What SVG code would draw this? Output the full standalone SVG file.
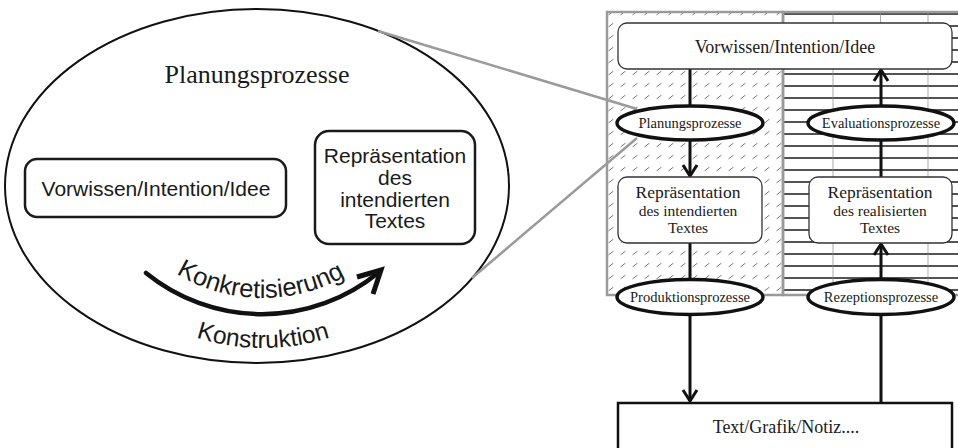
<svg xmlns="http://www.w3.org/2000/svg" width="958" height="448" viewBox="0 0 958 448">
<defs>
<style>
.serif{font-family:"Liberation Serif","Times New Roman",serif;fill:#1a1a1a;text-anchor:middle}
.sans{font-family:"Liberation Sans",Arial,sans-serif;fill:#1a1a1a;text-anchor:middle}
.lbox{fill:#fff;stroke:#1a1a1a;stroke-width:2.5}
.rbox{fill:#fff;stroke:#333;stroke-width:1.3}
.proc{fill:#fff;stroke:#111;stroke-width:3.5}
.conn{stroke:#111;stroke-width:3;fill:none}
.head{stroke:#111;stroke-width:3;fill:none;stroke-linejoin:miter}
.gray{stroke:#9a9a9a;stroke-width:2.5;fill:none}
</style>
<pattern id="hatch" patternUnits="userSpaceOnUse" x="737" y="67" width="12" height="12">
<line x1="3.6" y1="7.8" x2="8.4" y2="4.2" stroke="#555" stroke-width="0.8"/>
</pattern>
<pattern id="hlines" patternUnits="userSpaceOnUse" x="0" y="8" width="12" height="12">
<line x1="0" y1="6" x2="12" y2="6" stroke="#333" stroke-width="1.7"/>
</pattern>
<path id="arcTop" d="M 96,131 A 167 167 0 0 0 430,131"/>
<path id="arcBot" d="M 46,131 A 217 217 0 0 0 480,131"/>
</defs>
<rect width="958" height="448" fill="#fff"/>

<g id="zoom-ellipse">
<ellipse cx="257" cy="186" rx="252" ry="177" fill="#fff" stroke="#111" stroke-width="2"/>
<text class="serif" x="257" y="83" font-size="26">Planungsprozesse</text>
</g>
<g id="left-vorwissen">
<rect class="lbox" x="25" y="159" width="261" height="58" rx="12"/>
<text class="sans" x="156" y="196" font-size="21">Vorwissen/Intention/Idee</text>
</g>
<g id="left-repraesentation">
<rect class="lbox" x="315" y="131" width="160" height="113" rx="14"/>
<text class="sans" x="395" y="163" font-size="21">Repräsentation</text>
<text class="sans" x="395" y="185" font-size="21">des</text>
<text class="sans" x="395" y="207" font-size="21">intendierten</text>
<text class="sans" x="395" y="228" font-size="21">Textes</text>
</g>
<g id="konkretisierung">
<path d="M146,273 A184 184 0 0 0 378,273" fill="none" stroke="#111" stroke-width="4.5" stroke-linecap="round"/>
<polyline points="357,277 381,270 373,294" fill="none" stroke="#111" stroke-width="5" stroke-linejoin="miter"/>
<text class="sans" font-size="25.5"><textPath href="#arcTop" startOffset="49.5%">Konkretisierung</textPath></text>
<text class="sans" font-size="24.5"><textPath href="#arcBot" startOffset="50%">Konstruktion</textPath></text>
</g>

<g id="panel">
<rect x="607" y="12" width="176" height="283" fill="url(#hatch)"/>
<rect x="783" y="12" width="180" height="283" fill="url(#hlines)"/>
<g stroke="#888" stroke-width="0.7">
<line x1="833" y1="12" x2="833" y2="295"/>
<line x1="880.5" y1="12" x2="880.5" y2="295"/>
<line x1="928" y1="12" x2="928" y2="295"/>
</g>
<rect x="607" y="12" width="176" height="283" class="gray"/>
<rect x="783" y="12" width="180" height="283" class="gray"/>
</g>

<g id="zoom-lines">
<line class="gray" x1="378" y1="31" x2="637" y2="109"/>
<line class="gray" x1="472" y1="278" x2="637" y2="138"/>
</g>

<g id="connectors">
<line class="conn" x1="690" y1="69" x2="690" y2="106"/>
<line class="conn" x1="690" y1="140" x2="690" y2="176"/>
<polyline class="head" points="683,165 690,176 697,165"/>
<line class="conn" x1="690" y1="243" x2="690" y2="279"/>
<line class="conn" x1="690" y1="315" x2="690" y2="401"/>
<polyline class="head" points="683,390 690,401 697,390"/>
<line class="conn" x1="881" y1="403" x2="881" y2="315"/>
<line class="conn" x1="881" y1="279" x2="881" y2="244"/>
<polyline class="head" points="874,255 881,244 888,255"/>
<line class="conn" x1="881" y1="177" x2="881" y2="140"/>
<line class="conn" x1="881" y1="106" x2="881" y2="70"/>
<polyline class="head" points="874,81 881,70 888,81"/>
</g>

<g id="r-vorwissen">
<rect class="rbox" x="618" y="23" width="334" height="46" rx="9"/>
<text class="serif" x="785" y="53" font-size="18">Vorwissen/Intention/Idee</text>
</g>
<g id="r-planung">
<ellipse class="proc" cx="690" cy="123" rx="73" ry="17"/>
<text class="serif" x="690" y="128" font-size="14.5">Planungsprozesse</text>
</g>
<g id="r-evaluation">
<ellipse class="proc" cx="881" cy="123" rx="73" ry="17"/>
<text class="serif" x="881" y="128" font-size="14.5">Evaluationsprozesse</text>
</g>
<g id="r-rep-intend">
<rect class="rbox" x="618" y="177" width="144" height="66" rx="9"/>
<text class="serif" x="688" y="198" font-size="17.5">Repräsentation</text>
<text class="serif" x="688" y="216" font-size="15.5">des intendierten</text>
<text class="serif" x="688" y="233" font-size="15.5">Textes</text>
</g>
<g id="r-rep-real">
<rect class="rbox" x="809" y="177" width="143" height="66" rx="9"/>
<text class="serif" x="880" y="198" font-size="17.5">Repräsentation</text>
<text class="serif" x="880" y="216" font-size="15.5">des realisierten</text>
<text class="serif" x="880" y="233" font-size="15.5">Textes</text>
</g>
<g id="r-produktion">
<ellipse class="proc" cx="690" cy="297" rx="73" ry="17.5"/>
<text class="serif" x="690" y="302" font-size="14.5">Produktionsprozesse</text>
</g>
<g id="r-rezeption">
<ellipse class="proc" cx="881" cy="297" rx="73" ry="17.5"/>
<text class="serif" x="881" y="302" font-size="14.5">Rezeptionsprozesse</text>
</g>
<g id="r-text">
<rect x="618" y="403" width="334" height="60" fill="#fff" stroke="#111" stroke-width="2.5"/>
<text class="serif" x="786" y="433" font-size="18">Text/Grafik/Notiz....</text>
</g>
</svg>
